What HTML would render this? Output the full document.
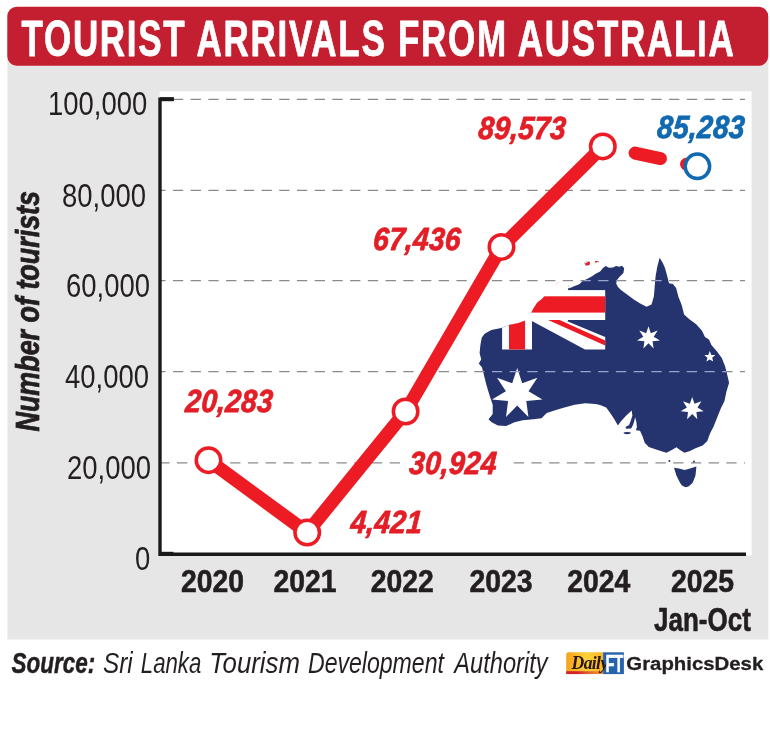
<!DOCTYPE html>
<html lang="en"><head><meta charset="utf-8"><title>Tourist arrivals from Australia</title>
<style>html,body{margin:0;padding:0;background:#fff}svg{display:block}</style></head>
<body>
<svg width="770" height="748" viewBox="0 0 770 748">
<defs><clipPath id="oz"><path d="M481.7 337.7 L484.6 333.8 L491.4 329.9 L501.2 327.9 L509.0 325.0 L518.7 323.0 L526.5 320.1 L530.4 314.3 L533.3 308.4 L537.2 302.6 L542.1 298.7 L547.9 291.9 L551.8 287.0 L557.7 283.1 L563.5 281.2 L567.5 284.0 L569.6 288.3 L574.0 286.3 L579.3 284.3 L582.5 281.1 L587.0 279.0 L592.1 276.3 L596.0 273.5 L600.1 271.5 L603.0 268.0 L605.7 265.9 L609.0 267.8 L613.0 267.5 L616.0 266.0 L619.4 266.7 L622.0 265.8 L624.2 268.3 L623.4 273.1 L619.4 277.1 L617.0 280.0 L616.2 283.5 L618.0 287.0 L621.0 289.9 L627.4 294.7 L633.8 299.5 L640.2 303.6 L646.6 306.8 L651.5 304.4 L653.9 296.3 L654.7 286.7 L655.5 277.1 L657.1 267.5 L659.6 257.8 L662.8 263.0 L665.0 268.0 L667.6 277.6 L669.0 283.3 L672.9 284.0 L676.1 288.0 L678.5 296.9 L681.7 304.9 L684.1 314.5 L689.7 319.4 L696.2 324.2 L701.8 330.6 L705.0 337.0 L709.0 339.4 L711.4 345.0 L717.0 351.4 L721.8 357.9 L725.0 365.9 L727.4 375.5 L729.1 382.7 L726.4 391.8 L724.5 400.9 L720.9 408.2 L717.3 417.3 L713.6 426.4 L710.0 433.6 L707.3 440.9 L702.7 445.5 L695.5 448.2 L690.0 450.9 L684.5 452.7 L680.0 450.0 L676.4 447.3 L671.8 450.0 L666.4 452.7 L662.3 451.6 L656.1 449.5 L648.8 447.0 L644.7 442.8 L642.6 436.6 L640.0 430.8 L635.8 430.3 L636.9 427.2 L636.4 422.0 L635.1 417.3 L634.3 421.0 L633.0 425.1 L631.2 428.5 L626.0 428.8 L625.5 427.0 L629.1 425.1 L630.6 421.0 L632.4 415.8 L631.7 410.6 L626.0 415.8 L620.8 421.5 L617.9 425.6 L614.5 419.4 L610.4 413.2 L606.2 407.5 L600.0 404.9 L595.5 404.1 L585.1 403.2 L574.7 404.7 L564.4 407.4 L556.0 409.9 L546.7 413.0 L541.5 418.2 L533.2 419.2 L522.8 420.3 L514.5 422.3 L506.2 426.1 L497.9 425.5 L491.6 422.3 L488.5 419.2 L492.7 414.0 L492.7 404.7 L489.5 395.3 L486.4 385.0 L483.3 372.5 L482.0 367.4 L478.8 363.4 L481.2 359.4 L479.6 353.0 L480.4 345.0Z M674.0 467.8 L679.0 468.5 L684.5 470.0 L690.0 468.5 L696.4 466.4 L695.5 475.5 L692.7 482.7 L688.5 486.5 L685.5 487.3 L682.0 485.5 L680.0 482.7 L676.4 475.5Z M584.0 262.5 L587.0 261.0 L590.0 262.0 L589.5 265.0 L586.0 265.5Z M595.0 261.0 L598.5 261.0 L598.5 263.0 L595.5 263.0Z"/></clipPath><linearGradient id="dg" x1="0" y1="0" x2="1" y2="0"><stop offset="0" stop-color="#f6a21b"/><stop offset=".55" stop-color="#fbd13a"/><stop offset="1" stop-color="#f7b52a"/></linearGradient><linearGradient id="rg" x1="0" y1="0" x2="1" y2="0"><stop offset="0" stop-color="#d2232a"/><stop offset=".3" stop-color="#d2232a"/><stop offset="1" stop-color="#e8502a" stop-opacity=".35"/></linearGradient></defs>
<rect width="770" height="748" fill="#fff"/>
<rect x="7.5" y="30" width="760.9" height="609.5" fill="#e6e6e7"/>
<rect x="7.3" y="6.7" width="760.9" height="59.1" rx="9.5" fill="#c41f30"/>
<rect x="159.7" y="91.3" width="591.9" height="464.2" fill="#fff"/>
<g stroke="#8a8a8a" stroke-width="1.25" stroke-dasharray="10.3 7.42" fill="none"><line x1="160" x2="745" y1="99.4" y2="99.4" stroke-dashoffset="4.8"/><line x1="160" x2="745" y1="190.4" y2="190.4" stroke-dashoffset="4.8"/><line x1="160" x2="745" y1="280.5" y2="280.5" stroke-dashoffset="4.8"/><line x1="160" x2="745" y1="371.6" y2="371.6" stroke-dashoffset="4.8"/><line x1="160" x2="745" y1="462.8" y2="462.8" stroke-dashoffset="0.7"/></g>
<rect x="401" y="448" width="111.5" height="30" fill="#fff"/>
<g clip-path="url(#oz)">
<path d="M470 321H568V250H740V495H470Z" fill="#25346f"/>
<rect x="420" y="290.1" width="185.2" height="29.9" fill="#fff"/>
<rect x="502.1" y="255" width="29.9" height="94.5" fill="#fff"/>
<polygon points="530,320 564.2,320 605.2,337.1 605.2,349.5 585,349.5" fill="#fff"/>
<polygon points="530,290 566,290 605.2,263.9 605.2,255 595.3,255" fill="#fff"/>
<polygon points="535.6,290 544.9,290 605.2,257.7 605.2,255 600.9,255" fill="#ed1c24"/>
<polygon points="548,320 559.6,320 605.2,340.6 605.2,345.4" fill="#ed1c24"/>
<rect x="420" y="296.3" width="185.2" height="16.3" fill="#ed1c24"/>
<rect x="509" y="255" width="16.1" height="94.5" fill="#ed1c24"/>
</g>
<polygon points="517.2,368.0 522.2,383.3 537.4,377.7 528.5,391.2 542.4,399.5 526.3,401.0 528.4,417.0 517.2,405.4 506.0,417.0 508.1,401.0 492.0,399.5 505.9,391.2 497.0,377.7 512.2,383.3" fill="#fff"/>
<polygon points="648.5,326.2 650.8,333.2 657.7,330.6 653.7,336.8 660.0,340.6 652.6,341.3 653.6,348.6 648.5,343.3 643.4,348.6 644.4,341.3 637.0,340.6 643.3,336.8 639.3,330.6 646.2,333.2" fill="#fff"/>
<polygon points="692.2,396.9 694.5,403.8 701.4,401.3 697.5,407.5 703.7,411.3 696.4,412.1 697.3,419.3 692.2,414.1 687.1,419.3 688.0,412.1 680.7,411.3 686.9,407.5 683.0,401.3 689.9,403.8" fill="#fff"/>
<polygon points="709.8,351.1 711.3,354.9 715.3,355.1 712.2,357.7 713.2,361.6 709.8,359.4 706.4,361.6 707.4,357.7 704.3,355.1 708.3,354.9" fill="#fff"/>
<ellipse cx="627.2" cy="433.1" rx="3.6" ry="1.1" fill="#25346f"/>
<circle cx="669.4" cy="461" r="1" fill="#25346f"/><circle cx="694" cy="461.5" r="1" fill="#25346f"/>
<g stroke="#9aa3cf" stroke-width="1.25" stroke-dasharray="10.3 7.42" fill="none" clip-path="url(#oz)"><line x1="160" x2="745" y1="99.4" y2="99.4" stroke-dashoffset="4.8"/><line x1="160" x2="745" y1="190.4" y2="190.4" stroke-dashoffset="4.8"/><line x1="160" x2="745" y1="280.5" y2="280.5" stroke-dashoffset="4.8"/><line x1="160" x2="745" y1="371.6" y2="371.6" stroke-dashoffset="4.8"/><line x1="160" x2="745" y1="462.8" y2="462.8" stroke-dashoffset="0.7"/></g>
<path d="M173.8 99.2H160V554.2H746" fill="none" stroke="#1a1a1a" stroke-width="3.4"/>
<rect x="160" y="97.2" width="13.8" height="4" fill="#1a1a1a"/>
<rect x="160" y="551.8" width="13.5" height="3" fill="#1a1a1a"/>
<polyline points="208.5,460.2 307.2,532.5 405.6,411.5 501.5,246.9 602.8,146.4" fill="none" stroke="#ed1c24" stroke-width="13.4" stroke-linejoin="round"/>
<g stroke="#ed1c24" stroke-width="13" stroke-linecap="round"><line x1="635" y1="153.1" x2="660.5" y2="158.6"/><line x1="686.5" y1="164.2" x2="692" y2="165.4"/></g>
<circle cx="208.5" cy="460.2" r="12.25" fill="#fff" stroke="#ed1c24" stroke-width="3.5"/>
<circle cx="307.2" cy="532.5" r="12.25" fill="#fff" stroke="#ed1c24" stroke-width="3.5"/>
<circle cx="405.6" cy="411.5" r="12.25" fill="#fff" stroke="#ed1c24" stroke-width="3.5"/>
<circle cx="501.5" cy="246.9" r="12.25" fill="#fff" stroke="#ed1c24" stroke-width="3.5"/>
<circle cx="602.8" cy="146.4" r="12.25" fill="#fff" stroke="#ed1c24" stroke-width="3.5"/>
<circle cx="697.4" cy="166.3" r="12.25" fill="#fff" stroke="#1169b0" stroke-width="3.5"/>
<text transform="translate(38.8 431.5) rotate(-90) scale(0.815 1)" font-family="'Liberation Sans', sans-serif" font-size="33" font-weight="bold" font-style="italic" fill="#231f20" stroke="#231f20" stroke-width="0.8">Number of tourists</text>
<path d="M568.4 652.3H603.1V674.1H566.2V654.5Q566.2 652.3 568.4 652.3Z" fill="url(#dg)"/>
<rect x="566.2" y="671.2" width="36.9" height="2.9" fill="url(#rg)"/>
<rect x="603.1" y="652.3" width="20.8" height="21.8" fill="#2563ad"/>
<text transform="translate(571.6 668.6) scale(0.93 1)" font-family="'Liberation Serif', serif" font-size="19" font-weight="bold" font-style="italic" fill="#2b1409" letter-spacing="-0.7">Daily</text>
<text transform="translate(605.6 672.4) scale(0.60 1)" font-family="'Liberation Sans', sans-serif" font-size="24.7" font-weight="bold" fill="#fff" stroke="#fff" stroke-width="0.6" letter-spacing="-0.6">FT</text>
<text transform="translate(21.50 55.50) scale(0.7100 1)" font-family="'Liberation Sans', sans-serif" font-size="49.30" font-weight="bold" font-style="normal" letter-spacing="2.40" fill="#fff" text-anchor="start" stroke="#fff" stroke-width="0.80" stroke-linejoin="round">TOURIST ARRIVALS FROM AUSTRALIA</text>
<text transform="translate(48.00 115.10) scale(0.8470 1)" font-family="'Liberation Sans', sans-serif" font-size="32.40" font-weight="normal" font-style="normal" letter-spacing="0.00" fill="#231f20" text-anchor="start">100,000</text>
<text transform="translate(62.00 206.50) scale(0.8470 1)" font-family="'Liberation Sans', sans-serif" font-size="32.40" font-weight="normal" font-style="normal" letter-spacing="0.00" fill="#231f20" text-anchor="start">80,000</text>
<text transform="translate(66.00 297.20) scale(0.8470 1)" font-family="'Liberation Sans', sans-serif" font-size="32.40" font-weight="normal" font-style="normal" letter-spacing="0.00" fill="#231f20" text-anchor="start">60,000</text>
<text transform="translate(65.00 387.90) scale(0.8470 1)" font-family="'Liberation Sans', sans-serif" font-size="32.40" font-weight="normal" font-style="normal" letter-spacing="0.00" fill="#231f20" text-anchor="start">40,000</text>
<text transform="translate(67.00 478.90) scale(0.8470 1)" font-family="'Liberation Sans', sans-serif" font-size="32.40" font-weight="normal" font-style="normal" letter-spacing="0.00" fill="#231f20" text-anchor="start">20,000</text>
<text transform="translate(135.00 569.80) scale(0.8470 1)" font-family="'Liberation Sans', sans-serif" font-size="32.40" font-weight="normal" font-style="normal" letter-spacing="0.00" fill="#231f20" text-anchor="start">0</text>
<text transform="translate(181.00 592.40) scale(0.9000 1)" font-family="'Liberation Sans', sans-serif" font-size="31.50" font-weight="bold" font-style="normal" letter-spacing="0.00" fill="#231f20" text-anchor="start" stroke="#231f20" stroke-width="0.60" stroke-linejoin="round">2020</text>
<text transform="translate(273.50 592.40) scale(0.9000 1)" font-family="'Liberation Sans', sans-serif" font-size="31.50" font-weight="bold" font-style="normal" letter-spacing="0.00" fill="#231f20" text-anchor="start" stroke="#231f20" stroke-width="0.60" stroke-linejoin="round">2021</text>
<text transform="translate(370.80 592.40) scale(0.9000 1)" font-family="'Liberation Sans', sans-serif" font-size="31.50" font-weight="bold" font-style="normal" letter-spacing="0.00" fill="#231f20" text-anchor="start" stroke="#231f20" stroke-width="0.60" stroke-linejoin="round">2022</text>
<text transform="translate(469.40 592.40) scale(0.9000 1)" font-family="'Liberation Sans', sans-serif" font-size="31.50" font-weight="bold" font-style="normal" letter-spacing="0.00" fill="#231f20" text-anchor="start" stroke="#231f20" stroke-width="0.60" stroke-linejoin="round">2023</text>
<text transform="translate(567.20 592.40) scale(0.9000 1)" font-family="'Liberation Sans', sans-serif" font-size="31.50" font-weight="bold" font-style="normal" letter-spacing="0.00" fill="#231f20" text-anchor="start" stroke="#231f20" stroke-width="0.60" stroke-linejoin="round">2024</text>
<text transform="translate(671.00 592.40) scale(0.9000 1)" font-family="'Liberation Sans', sans-serif" font-size="31.50" font-weight="bold" font-style="normal" letter-spacing="0.00" fill="#231f20" text-anchor="start" stroke="#231f20" stroke-width="0.60" stroke-linejoin="round">2025</text>
<text transform="translate(654.00 631.00) scale(0.8050 1)" font-family="'Liberation Sans', sans-serif" font-size="32.30" font-weight="bold" font-style="normal" letter-spacing="0.00" fill="#231f20" text-anchor="start" stroke="#231f20" stroke-width="0.60" stroke-linejoin="round">Jan-Oct</text>
<text transform="translate(184.80 411.70) skewX(-4.0) scale(0.8850 1)" font-family="'Liberation Sans', sans-serif" font-size="32.00" font-weight="bold" font-style="italic" letter-spacing="0.20" fill="#e31e26" text-anchor="start" stroke="#e31e26" stroke-width="0.80" stroke-linejoin="round">20,283</text>
<text transform="translate(349.90 533.40) skewX(-4.0) scale(0.8850 1)" font-family="'Liberation Sans', sans-serif" font-size="32.00" font-weight="bold" font-style="italic" letter-spacing="0.20" fill="#e31e26" text-anchor="start" stroke="#e31e26" stroke-width="0.80" stroke-linejoin="round">4,421</text>
<text transform="translate(408.50 473.60) skewX(-4.0) scale(0.8850 1)" font-family="'Liberation Sans', sans-serif" font-size="32.00" font-weight="bold" font-style="italic" letter-spacing="0.20" fill="#e31e26" text-anchor="start" stroke="#e31e26" stroke-width="0.80" stroke-linejoin="round">30,924</text>
<text transform="translate(372.60 249.70) skewX(-4.0) scale(0.8850 1)" font-family="'Liberation Sans', sans-serif" font-size="32.00" font-weight="bold" font-style="italic" letter-spacing="0.20" fill="#e31e26" text-anchor="start" stroke="#e31e26" stroke-width="0.80" stroke-linejoin="round">67,436</text>
<text transform="translate(477.80 138.70) skewX(-4.0) scale(0.8850 1)" font-family="'Liberation Sans', sans-serif" font-size="32.00" font-weight="bold" font-style="italic" letter-spacing="0.20" fill="#e31e26" text-anchor="start" stroke="#e31e26" stroke-width="0.80" stroke-linejoin="round">89,573</text>
<text transform="translate(656.60 137.50) skewX(-4.0) scale(0.8850 1)" font-family="'Liberation Sans', sans-serif" font-size="32.00" font-weight="bold" font-style="italic" letter-spacing="0.20" fill="#1169b0" text-anchor="start" stroke="#1169b0" stroke-width="0.80" stroke-linejoin="round">85,283</text>
<text transform="translate(11.50 672.70) scale(0.7490 1)" font-family="'Liberation Sans', sans-serif" font-size="30.00" font-weight="bold" font-style="italic" letter-spacing="0.00" fill="#231f20" text-anchor="start" stroke="#231f20" stroke-width="0.50" stroke-linejoin="round">Source:</text>
<text transform="translate(626.30 670.00) scale(1.0837 1)" font-family="'Liberation Sans', sans-serif" font-size="18.80" font-weight="bold" font-style="normal" letter-spacing="0.00" fill="#231f20" text-anchor="start" stroke="#231f20" stroke-width="0.30" stroke-linejoin="round">GraphicsDesk</text>
<text transform="translate(103.00 672.70) scale(0.8090 1)" font-family="'Liberation Sans', sans-serif" font-size="30.00" font-weight="normal" font-style="italic" letter-spacing="0.00" fill="#231f20" text-anchor="start">Sri</text>
<text transform="translate(140.80 672.70) scale(0.7410 1)" font-family="'Liberation Sans', sans-serif" font-size="30.00" font-weight="normal" font-style="italic" letter-spacing="0.00" fill="#231f20" text-anchor="start">Lanka</text>
<text transform="translate(209.20 672.70) scale(0.8600 1)" font-family="'Liberation Sans', sans-serif" font-size="30.00" font-weight="normal" font-style="italic" letter-spacing="0.00" fill="#231f20" text-anchor="start">Tourism</text>
<text transform="translate(308.00 672.70) scale(0.7690 1)" font-family="'Liberation Sans', sans-serif" font-size="30.00" font-weight="normal" font-style="italic" letter-spacing="0.00" fill="#231f20" text-anchor="start">Development</text>
<text transform="translate(454.30 672.70) scale(0.7875 1)" font-family="'Liberation Sans', sans-serif" font-size="30.00" font-weight="normal" font-style="italic" letter-spacing="0.00" fill="#231f20" text-anchor="start">Authority</text>
</svg>
</body></html>
